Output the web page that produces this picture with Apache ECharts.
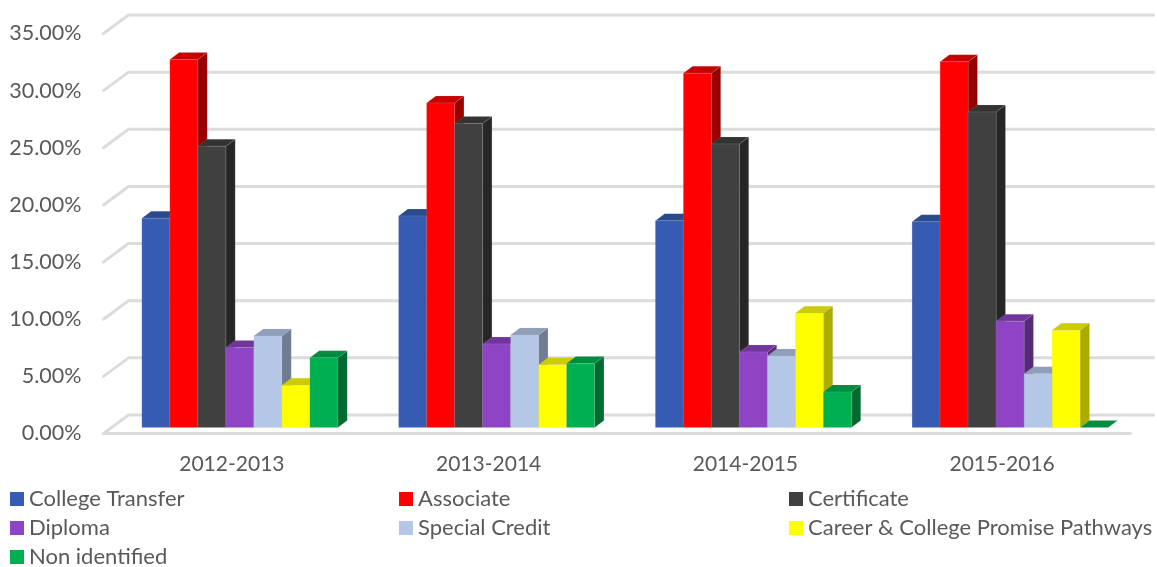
<!DOCTYPE html>
<html>
<head>
<meta charset="utf-8">
<style>html,body{margin:0;padding:0;background:#fff}#c{width:1157px;height:567px}</style>
<script src="https://cdn.jsdelivr.net/npm/echarts@6/dist/echarts.min.js"></script>
</head>
<body>
<div id="c"></div>
<script>
const categories = ['2012-2013','2013-2014','2014-2015','2015-2016'];
const yTicks = [0,5,10,15,20,25,30,35];
const seriesNames = ['College Transfer','Associate','Certificate','Diploma','Special Credit','Career & College Promise Pathways','Non identified'];
const collegeTransfer = [18.3,18.5,18.1,18.0];
const associate = [32.2,28.4,31.0,32.0];
const certificate = [24.6,26.6,24.8,27.6];
const diploma = [7.0,7.3,6.6,9.3];
const specialCredit = [8.0,8.1,6.25,4.7];
const careerPromise = [3.7,5.5,10.0,8.5];
const nonIdentified = [6.1,5.6,3.1,0];
const seriesValues = [collegeTransfer,associate,certificate,diploma,specialCredit,careerPromise,nonIdentified];
const frontColors = ['#355CB2','#FF0000','#404040','#8E44C4','#B4C7E7','#FFFF00','#00B050'];
const topColors   = ['#2A4A8E','#C80000','#333333','#71369C','#8F9FBA','#CCCC00','#008D40'];
const sideColors  = ['#203770','#990000','#262626','#552A76','#6F7C92','#ABAB00','#006B30'];
const legendPos = [[10,488],[399,488],[789,488],[10,517],[399,517],[789,517],[10,546]];
const FONT = 'Lato';
const TEXT = '#595959';
const GRID_DX = 25, GRID_DY = -18.5;
const BAR_DX = 9.3, BAR_DY = -7;
const PLANE_DX = 8, PLANE_DY = -6;
const GROUP_RATIO = 0.7635;

function wallItem(params, api){
  const cs = params.coordSys;
  const p = api.coord([0, api.value(0)]);
  const y = p[1];
  const l = cs.x, r = cs.x + cs.width;
  const style = {stroke:'#DCDCDC', lineWidth:3, fill:null, lineCap:'round', lineJoin:'round'};
  const pts = [[l,y],[l+GRID_DX,y+GRID_DY],[r+GRID_DX-2,y+GRID_DY]];
  const kids = [{type:'polyline', shape:{points:pts}, style}];
  if (api.value(0) === 0) kids.push({type:'line', shape:{x1:l,y1:y,x2:r,y2:y}, style});
  return {type:'group', children:kids};
}
function barItem(idx){
  return function(params, api){
    const cw = api.size([1,0])[0];
    const c = api.coord([api.value(0), api.value(1)]);
    const b = api.coord([api.value(0), 0]);
    const w = cw * GROUP_RATIO / 7;
    const x0 = c[0] + PLANE_DX - w*3.5 + idx*w, x1 = x0 + w;
    const yt = c[1] + PLANE_DY, yb = b[1] + PLANE_DY;
    const edge = 'rgba(190,190,190,0.3)';
    const kids = [
      {type:'polygon', shape:{points:[[x1,yt],[x1+BAR_DX,yt+BAR_DY],[x1+BAR_DX,yb+BAR_DY],[x1,yb]]}, style:{fill:sideColors[idx], stroke:edge, lineWidth:0.5}},
      {type:'polygon', shape:{points:[[x0,yt],[x0+BAR_DX,yt+BAR_DY],[x1+BAR_DX,yt+BAR_DY],[x1,yt]]}, style:{fill:topColors[idx], stroke:edge, lineWidth:0.5}},
    ];
    if (yb - yt > 0.5) kids.push({type:'rect', shape:{x:x0,y:yt,width:w,height:yb-yt}, style:{fill:frontColors[idx], stroke:edge, lineWidth:0.5}});
    return {type:'group', children:kids};
  };
}
const series = [{
  type:'custom', name:'walls', silent:true, clip:false, z:1,
  data: yTicks.map(v=>[v]), encode:{y:0}, renderItem:wallItem
}].concat(seriesNames.map((n,i)=>({
  type:'custom', name:n, clip:false, z:2+i,
  itemStyle:{color:frontColors[i]},
  data: seriesValues[i].map((v,k)=>[k,v]), encode:{x:0,y:1}, renderItem:barItem(i)
})));
const chart = echarts.init(document.getElementById('c'), null, {renderer:'canvas'});
chart.setOption({
  animation:false,
  backgroundColor:'#fff',
  grid:{left:103.5, right:26.5, top:33.5, bottom:133.5, containLabel:false},
  xAxis:{type:'category', data:categories, axisLine:{show:false}, axisTick:{show:false}, splitLine:{show:false},
    axisLabel:{color:TEXT, fontFamily:FONT, fontSize:21, margin:20, interval:0}},
  yAxis:{type:'value', min:0, max:35, interval:5, axisLine:{show:false}, axisTick:{show:false}, splitLine:{show:false},
    axisLabel:{color:TEXT, fontFamily:FONT, fontSize:21.5, margin:22, formatter:v=>v.toFixed(2)+'%'}},
  legend: seriesNames.map((n,i)=>({
    data:[n], left:legendPos[i][0], top:legendPos[i][1], orient:'horizontal', padding:0,
    itemWidth:14, itemHeight:14, icon:'rect', selectedMode:false,
    textStyle:{color:TEXT, fontFamily:FONT, fontSize:22, padding:[0,0,2,0]}
  })),
  series
});
</script>
</body>
</html>
